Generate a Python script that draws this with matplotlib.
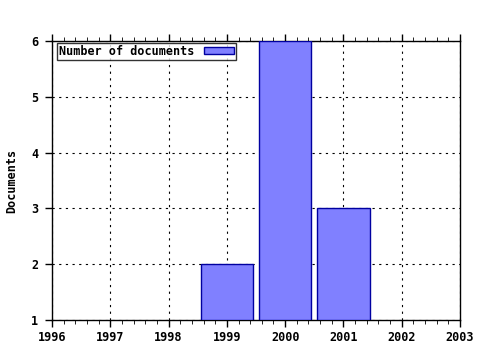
import matplotlib
matplotlib.use("Agg")
import matplotlib.pyplot as plt
from matplotlib.ticker import MultipleLocator

years = [1999, 2000, 2001]
docs = [2, 6, 3]
xticks = [1996, 1997, 1998, 1999, 2000, 2001, 2002, 2003]
yticks = [1, 2, 3, 4, 5, 6]

plt.rcParams['font.family'] = ['DejaVu Sans Mono']
plt.rcParams['font.weight'] = 'bold'

fig = plt.figure(figsize=(4.8, 3.5), dpi=100)
ax = fig.add_axes([52/480, 1-320/350, (460-52)/480, (320-41)/350])

ax.bar(years, [d - 1 for d in docs], bottom=1, width=0.9,
       color='#8080ff', edgecolor='#0000a0', linewidth=1.0, zorder=3,
       label='Number of documents')

ax.set_xlim(1996, 2003)
ax.set_ylim(1, 6)
ax.set_xticks(xticks)
ax.set_xticklabels([str(x) for x in xticks])
ax.set_yticks(yticks)
ax.set_yticklabels([str(y) for y in yticks])
ax.grid(True, color='black', linestyle=(0, (2, 4)), linewidth=0.8, zorder=1)
ax.tick_params(axis='both', direction='out', length=5, width=1, labelsize=8.5, colors='black')
ax.tick_params(axis='x', pad=3, top=True)
ax.tick_params(axis='y', pad=5)
ax.xaxis.set_minor_locator(MultipleLocator(0.2))
ax.tick_params(axis='x', which='minor', direction='out', length=3, top=True, bottom=True)
for s in ax.spines.values():
    s.set_linewidth(1.0)
    s.set_color('black')

ax.set_ylabel('Documents', fontsize=8.5, fontweight='bold', labelpad=9)

leg = ax.legend(loc='upper left', bbox_to_anchor=(5/408, 1 - 2/279), fontsize=8.5,
                frameon=True, fancybox=False, edgecolor='black', borderpad=0.15,
                handlelength=2.6, handleheight=0.6, markerfirst=False,
                borderaxespad=0, handletextpad=0.8)
leg.get_frame().set_linewidth(1.0)
leg.set_zorder(5)

fig.savefig('out.png', dpi=100, facecolor='white')
